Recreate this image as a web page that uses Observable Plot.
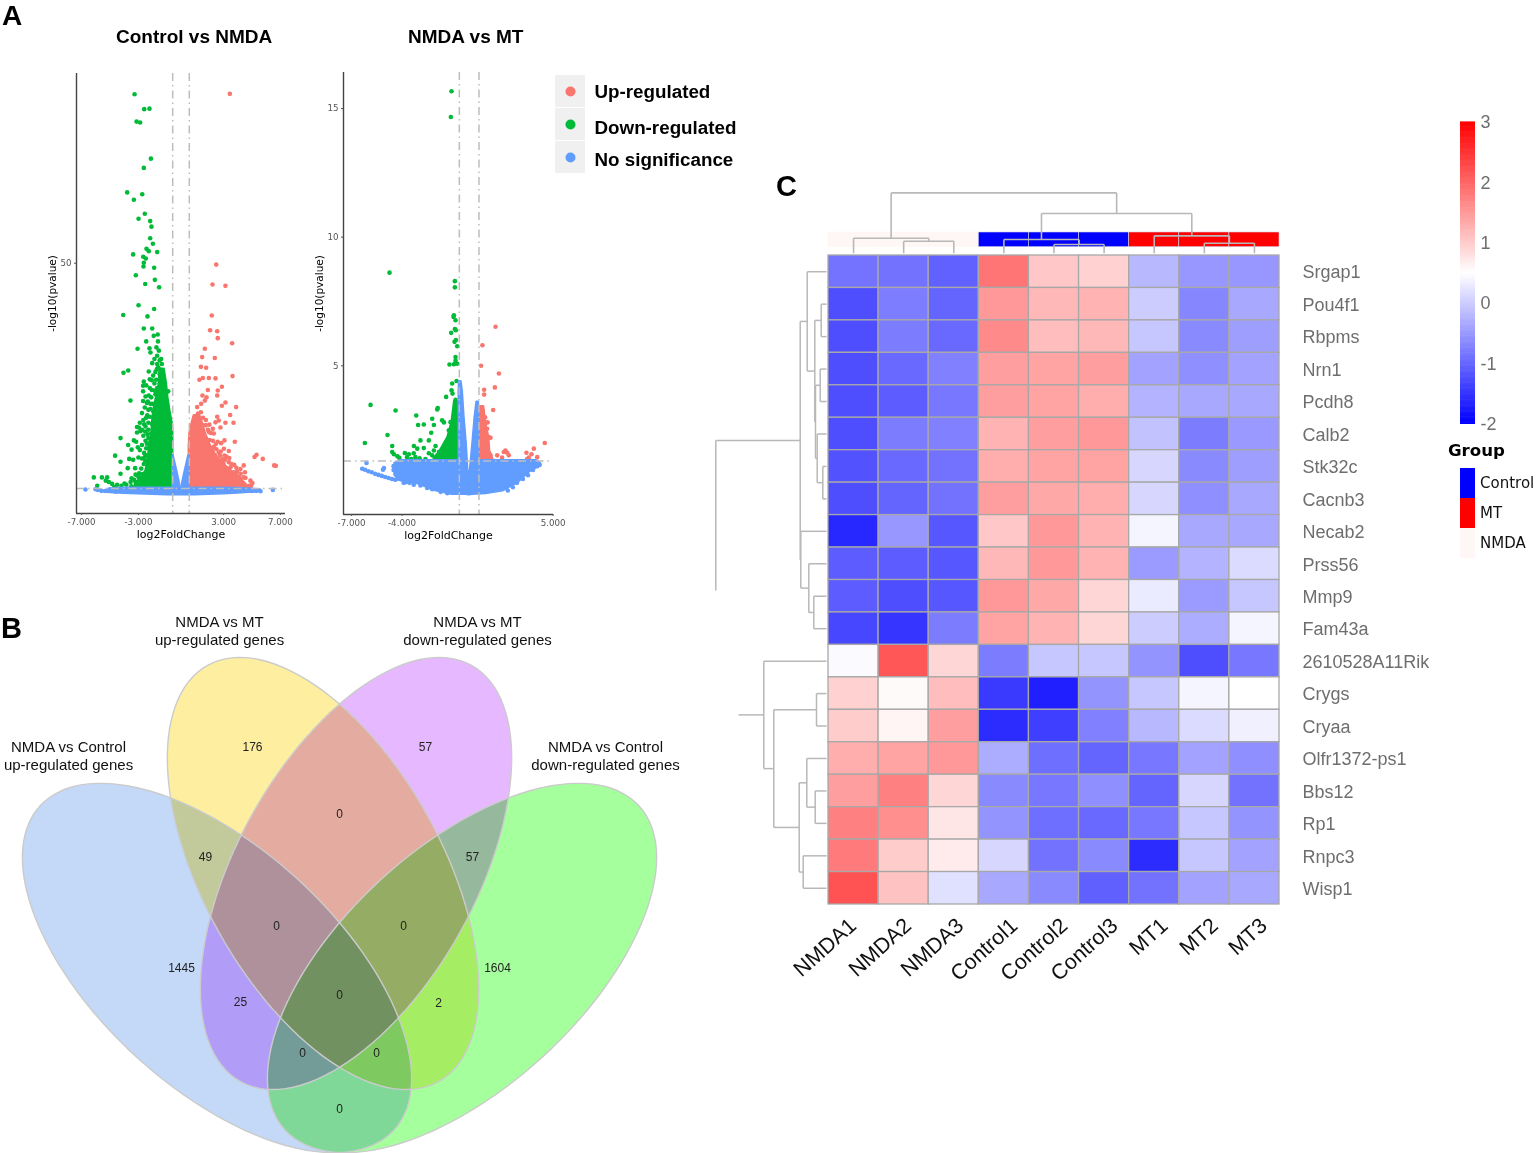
<!DOCTYPE html>
<html><head><meta charset="utf-8">
<script src="https://cdn.jsdelivr.net/npm/d3@7"></script>
<script src="https://cdn.jsdelivr.net/npm/@observablehq/plot@0.6"></script>
<style>
html,body{margin:0;padding:0;background:#fff}
#page{position:relative;width:1536px;height:1153px;overflow:hidden;font-family:"Liberation Sans",Arial,sans-serif}
#page svg{position:absolute;overflow:visible}
.t{position:absolute;white-space:nowrap;color:#000;line-height:29px}
</style></head><body><div id="page"></div>
<script>
// ---------- Panel A, Control vs NMDA (log2FC, -log10 p) ----------
const v1Down=[[-3.27,86.5],[-2.59,83.3],[-2.22,83.4],[-3.13,80.6],[-2.88,80.4],[-2.12,72.6],[-2.62,70.6],[-3.79,65.3],[-2.73,64.9],[-3.32,63.7],[-2.55,60.7],[-2.99,59.6],[-2.17,59.1],[-2.08,57.9],[-2.17,55.4],[-1.98,54.2],[-2.43,53.1],[-2.27,52.6],[-1.68,52.4],[-3.37,51.9],[-2.66,51.4],[-2.48,51],[-2.62,50.1],[-2.64,49.3],[-1.89,49],[-3.18,47.4],[-1.84,46.4],[-2.52,45.5],[-1.54,44.8],
[-2.99,40.9],[-1.89,40.1],[-4.07,38.8],[-2.36,38.5],[-2.62,35.9],[-2.03,35.9],[-1.92,34.3],[-1.64,34.6],[-2.45,33.1],[-1.62,33.1],[-3.06,31.5],[-2.22,31.6],[-1.73,31.8],[-2.15,30.7],[-1.56,31.1],[-1.68,30],[-1.87,29.3],[-1.4,29.3],[-2.03,28.4],[-1.68,28.2],[-1.35,28.2],[-1.7,27.1],[-2.27,26.6],[-3.72,26.8],[-4.05,26.3],[-1.96,25.7],[-1.28,25.5],[-2.2,24.9],[-2.62,24.4],[-1.87,24],[-1.26,24.6],[-2.67,23.5],[-2.2,23],[-1.68,23],[-2.67,22.3],[-1.21,22.5],[-0.9,22.3],[-2.27,21.4],[-1.8,21.7],[-3.56,20.3],[-2.67,20.2],[-2.34,20.1],[-1.98,19.6],[-1.33,20.3],[-2.15,18.5],[-1.75,18.9],[-2.38,17.1],[-2.65,16.1],[-2.97,14.5],[-2.5,14.7],[-2.05,15.3],[-2.85,13.7],[-2.52,13.6],[-2.1,13.2],[-2.3,12.2],[-1.95,11.9],
[-4.26,12.2],[-3.32,11.7],[-3.16,11.4],[-3.72,10.7],[-3.04,10.2],[-3.48,9.7],[-2.45,10],[-4.64,8.4],[-3.65,7.7],[-3.37,7.5],[-4.26,7.1],[-2.52,7.3],[-2.62,6.6],[-3.75,5.7],[-3.23,5.7],[-2.8,5.6],[-4.26,4.5],[-3.2,4.3],[-3.48,3.5],[-2.95,4.6],[-6.14,3.7],[-5.57,3.7],[-5.2,3.7],[-5.3,3],[-5.08,2.7],[-5.9,1.9],[-4.85,2.3],[-4.5,2.1],[-3.98,2.4],[-4.7,1.6],[-3.85,2.1],[-3.2,2.7],[-2.9,3.4],[-4.2,1.9],[-3.5,1.8],
[-1.5,29],[-1.6,27.5],[-1.8,26.5],[-1.5,26],[-2.05,24.7],[-1.75,24.8],[-1.5,24],[-2.45,23.6],[-2.05,22.6],[-1.85,22.5],[-1.55,22],[-2.5,21.2],[-2.1,21],[-1.6,21],[-2.4,19.8],[-2.15,19.6],[-1.85,19.5],[-2.55,18.8],[-2.3,18.3],[-1.95,18],[-2.75,17.6],[-2.45,16.6],[-2.2,16.8],[-1.9,16.5],[-2.9,15.5],[-2.6,15.2],[-2.3,15.5],[-3.1,14.6],[-2.75,14],[-2.3,14],[-2,14],[-3.1,13.4],[-2.65,12.7],[-2.35,13],[-2.5,11.6],[-2.75,10.7],[-2.4,11],[-2.9,9.6],[-2.6,9],[-2.4,8.5],[-3,8],[-2.75,7.8],[-2.55,8.1],[-2.7,4.4],[-3,3.8],[-3.3,3.2],[-3.55,2.7]];
const v1Up=[[3.44,86.6],[2.48,49.7],[2.22,45.4],[3.13,45.1],[2.17,38.7],[2.05,35.5],[2.55,35.3],[2.59,33.8],[3.6,32.7],[1.68,31.5],[1.49,29.7],[2.38,29.5],[1.4,27.6],[1.77,27.4],[1.3,24.8],[1.54,25.2],[1.96,25.2],[2.43,25.1],[3.63,25.6],[1.89,22.6],[2.59,22.5],[2.88,23.3],[2.55,21.4],[1.51,21.4],[1.8,21],[1.68,20.3],[1.42,19.6],[1.14,18.9],[3.13,19.9],[2.88,19.2],[3.88,18.9],[3.46,17.2],[2.55,16.8],[2.66,16],[2.43,15.6],[1.75,16.1],[3.13,15.5],[3.7,15.5],[2.78,14.5],[2,15.1],[2.24,14.2],[1.96,13.5],[2.31,13.2],[2.59,11.4],[3.06,11.7],[3.79,11.4],[2.83,11.1],[3.02,9.9],[3.37,9.4],[2.31,10.3],[2.66,9.1],[3.06,8.4],[3.37,7],[5.32,8.6],[5.18,8.1],[5.76,7.7],[6.56,6.3],[6.68,6.2],[4.42,6.3],[4.19,5.5],[3.49,5.9],[3.72,4.8],[4.5,4.8],[4.09,3.7],[4.54,3.6],[4.89,3],[5.03,2.5],[4.8,1.9],[4.94,1.9],[3,6.6],[3.2,5],[3.9,4.3],[2.9,7.6],
[1.2,17.5],[1.4,17.8],[1.55,16.6],[1.75,15],[1.5,15],[1.9,14],[2.1,13.3],[1.7,12.4],[2,11.8],[2.25,11.6],[2.45,10.9],[2.2,9.6],[2.5,9.8],[2.8,9.3],[2.4,8.5],[2.75,8.4],[3.2,8.2],[2.9,7.3],[3.1,7.5],[3.4,7.9],[3.55,6.6],[3.75,6.4],[3.9,5.8],[3.4,5.2],[3.95,5],[4.2,4.5],[4.4,3.7]];
const v1Ns=[[-6.73,1.1],[-6.02,1.15],[-5.85,1],[-5.6,0.8],[-5.35,0.75],[-5.15,0.75],[-5.05,1.1],[-4.85,1],[-4.6,0.6],[-4.4,0.9],[5.3,0.8],[5.6,0.7],[6.47,1],[5,0.75]];
const v1DownBlock=[[1.5,-3.25,-0.6],[2,-3.2,-0.6],[3,-2.95,-0.6],[5,-2.45,-0.6],[8,-2.25,-0.6],[11,-2.2,-0.6],[13,-2.0,-0.6],[15,-2,-0.62],[18,-1.9,-0.8],[21,-1.7,-0.95],[24,-1.5,-1.05],[27,-1.45,-1.2]];
const v1UpBlock=[[1.5,0.6,4.75],[3,0.6,4.3],[4.5,0.6,3.7],[5.9,0.6,3.2],[8.1,0.6,2.5],[10.2,0.6,2.1],[13.1,0.65,1.7],[15.3,0.8,1.5],[17,0.95,1.3]];
const v1NsBand=[[-5,0.5,1.15],[-4,0.35,1.3],[-3,0.2,1.3],[-2,0.1,1.3],[-1,0.03,1.3],[0,0,1.2],[1,0.03,1.3],[2,0.1,1.3],[3,0.2,1.3],[4,0.4,1.25],[5,0.6,1.1],[5.6,0.7,0.9]];
const v1NsArmL=[[1.4,-0.6,-0.02],[3,-0.6,-0.12],[5.9,-0.6,-0.33],[8.4,-0.58,-0.52]];
const v1NsArmR=[[1.4,0.02,0.6],[3,0.12,0.6],[5.9,0.33,0.6],[8.4,0.52,0.58]];
// ---------- Panel A, NMDA vs MT ----------
const v2Down=[[-1.05,15.67],[-1.09,14.67],[-4.74,8.62],[-0.85,8.29],[-0.85,8.05],[-0.91,6.96],[-0.93,6.9],[-0.81,6.77],[-0.85,6.43],[-0.79,6.38],[-1.07,6.28],[-0.79,6],[-0.87,5.93],[-0.71,5.76],[-0.81,5.34],[-1.17,5.05],[-0.91,5.06],[-0.71,5.08],[-0.81,5.2],[-1.01,4.31],[-0.75,4.41],[-1.05,4.05],[-0.99,3.92],[-1.37,3.79],[-0.81,3.68],[-5.87,3.48],[-4.38,3.26],[-3.15,3.07],[-1.87,3.36],[-1.9,3.3],[-3.04,2.7],[-2.7,2.72],[-2.2,2.94],[-2.1,2.7],[-1.61,2.88],[-1.5,2.8],[-2.26,2.4],[-1.11,2.81],[-0.75,3.2],[-1.21,2.49],[-4.86,2.31],[-6.21,2],[-4.58,1.88],[-2.9,2.1],[-2.4,2.1],[-3.29,1.88],[-3.09,1.78],[-2.7,1.8],[-2,1.88],[-2.1,1.71],[-1.8,1.65],[-4.58,1.65],[-4.48,1.56],[-4.27,1.48],[-4.15,1.42],[-3.83,1.61],[-3.59,1.56],[-3.7,1.45],[-3.3,1.6],[-3.2,1.45],[-2.4,1.6],[-2.2,1.52],[-1.9,1.52],[-1.6,1.38],[-1.3,1.85],[-1.1,2],[-0.9,2.25],[-0.8,2.5],[-0.9,2.7],[-1,1.7],[-0.8,1.5],[-1.3,1.45],[-1.2,2.1],[-0.7,1.85],[-3.45,1.38],[-2.95,1.4],[-2.6,1.38],[-2.05,1.42]];
const v2Up=[[1.57,6.52],[0.79,5.8],[0.71,5],[1.77,4.7],[1.53,4.16],[0.89,4.07],[0.89,3.88],[1.43,3.28],[0.68,3.3],[0.8,3.25],[0.99,2.78],[1.07,2.55],[1.17,2.23],[1.27,2.2],[0.87,2.1],[0.97,1.95],[0.77,1.85],[2.16,1.71],[2.26,1.62],[2.06,1.65],[1.67,1.52],[1.96,1.43],[2.36,1.52],[3.41,1.62],[3.71,1.56],[3.85,1.78],[4.5,2],[3.55,1.43],[3.45,1.38],[4.05,1.45],[1.17,1.6],[1.27,1.52],[0.87,1.45],[1.1,2.8],[0.95,3],[0.85,2.4]];
const v2Ns=[[-6.11,1.22],[-5.07,1.03],[-5.13,0.96],[-6.37,1],[-6.2,0.96],[-6,0.9],[-5.8,0.86],[-5.6,0.8],[-5.4,0.76],[-5.2,0.72],[-5,0.68],[-4.8,0.64],[-4.6,0.6],[-4.4,0.57],[-4.5,0.95],[-4.5,1.1],[-3.75,0.48],[-3.55,0.45],[3.7,1.25],[4.15,1.2],[4.2,1.15],
[-4.3,0.6],[-3.9,0.45],[-3.3,0.38],[-2.9,0.35],[-2.5,0.25],[-2.2,0.2],[-1.7,0.1],[-1.3,0.05],[2.3,0.15],[2.6,0.28],[2.85,0.45],[3.2,0.6],[3.5,0.75],[3.8,0.95],[4.05,1.1]];
const v2DownBlock=[[1.35,-2,-0.6],[1.8,-1.6,-0.6],[2.2,-1.25,-0.6],[2.8,-1,-0.6],[3.6,-0.85,-0.7]];
const v2UpBlock=[[1.35,0.6,1.4],[1.7,0.6,1.2],[2.2,0.6,1.15],[2.8,0.6,0.95],[3.4,0.6,0.85]];
const v2NsBody=[[-4.4,0.75,1.2],[-4.1,0.55,1.3],[-3.6,0.48,1.3],[-3,0.42,1.3],[-2,0.16,1.3],[-1,0.02,1.3],[-0.2,0.02,1.3],[0,0,0.6],[0.2,0.02,1.3],[1,0.05,1.3],[2,0.15,1.3],[2.9,0.48,1.3],[3.5,0.85,1.3],[4,1.05,1.3],[4.15,1.15,1.25]];
const v2NsArmL=[[1,-0.62,-0.06],[2,-0.62,-0.15],[3,-0.62,-0.28],[4,-0.62,-0.38],[4.4,-0.6,-0.46]];
const v2NsArmR=[[1,0.06,0.6],[2,0.2,0.6],[3,0.33,0.6],[3.6,0.44,0.58]];
// ---------- Legend ----------
const legendLabels=["Up-regulated","Down-regulated","No significance"];
const legendColors=["#F8766D","#00BA38","#619CFF"];
// ---------- Panel B ----------
const vennFill=["#c4d8f7","#fdeea0","#e6b8ff","#a6ff9d"];
const vennCx=[216.5,322.5,355.5,461.5];
const vennCy=[967.5,873,873,967.5];
const vennA=[240,238,238,240];
const vennB=[120,119.5,119.5,120];
const vennAngle=[42.5,61,-61,-42.5];
const vennCounts=[["176",252,747],["57",425,747],["0",339,814],["49",205,857],["57",472,857],["0",276,926],["0",403,926],["1445",181,968],["1604",497,968],["25",240,1002],["2",438,1003],["0",339,995],["0",302,1053],["0",376,1053],["0",339,1109]];
const vennSets=[["NMDA vs MT\nup-regulated genes",219,630],["NMDA vs MT\ndown-regulated genes",477,630],["NMDA vs Control\nup-regulated genes",68,755],["NMDA vs Control\ndown-regulated genes",605,755]];
// ---------- Panel C ----------
const samples=["NMDA1","NMDA2","NMDA3","Control1","Control2","Control3","MT1","MT2","MT3"];
const sampleGroup=["NMDA","NMDA","NMDA","Control","Control","Control","MT","MT","MT"];
const genes=["Srgap1","Pou4f1","Rbpms","Nrn1","Pcdh8","Calb2","Stk32c","Cacnb3","Necab2","Prss56","Mmp9","Fam43a","2610528A11Rik","Crygs","Cryaa","Olfr1372-ps1","Bbs12","Rp1","Rnpc3","Wisp1"];
const expr=[
[-0.87,-0.88,-1.05,1.85,1.05,0.95,-0.2,-0.52,-0.52],
[-1.24,-0.77,-1.02,1.5,1.2,1.25,0,-0.69,-0.35],
[-1.24,-0.78,-0.97,1.65,1.15,1.2,-0.05,-0.65,-0.45],
[-1.24,-0.97,-0.74,1.45,1.4,1.45,-0.4,-0.6,-0.4],
[-1.24,-1.1,-0.83,1.45,1.4,1.3,-0.25,-0.35,-0.35],
[-1.24,-0.78,-0.74,1.25,1.45,1.5,-0.1,-0.78,-0.5],
[-1.2,-0.97,-0.88,1.3,1.4,1.4,0.1,-0.65,-0.45],
[-1.24,-1.02,-0.88,1.45,1.35,1.3,0.1,-0.6,-0.35],
[-1.62,-0.52,-1.15,1.05,1.5,1.25,0.4,-0.35,-0.35],
[-1.1,-1.1,-1.15,1.2,1.5,1.25,-0.48,-0.25,0.15],
[-1.1,-1.24,-1.15,1.5,1.35,0.9,0.3,-0.48,-0.05],
[-1.3,-1.48,-0.78,1.4,1.25,0.9,0,-0.3,0.4],
[0.45,2.15,0.9,-0.78,-0.05,-0.05,-0.55,-1.24,-0.83],
[0.95,0.55,1.15,-1.43,-1.7,-0.55,-0.05,0.4,0.5],
[1,0.6,1.45,-1.57,-1.38,-0.74,-0.2,0.15,0.35],
[1.3,1.4,1.5,-0.3,-0.92,-1.02,-0.83,-0.4,-0.6],
[1.45,1.75,0.9,-0.65,-0.83,-0.6,-1.02,0.1,-0.88],
[1.75,1.6,0.75,-0.55,-0.92,-0.97,-0.83,-0.05,-0.55],
[1.8,1,0.7,0.1,-0.88,-0.65,-1.57,-0.05,-0.4],
[2.2,1.1,0.2,-0.35,-0.65,-1.06,-0.88,-0.4,-0.35]];
const groupColors={NMDA:"#fff7f5",Control:"#0000ff",MT:"#ff0000"};
const colTree=[60.3,[15,0,[12,1,2]],[39.7,[13.7,3,[8.7,4,5]],[17.3,6,[10,7,8]]]];
const rowTreeA=[26.3,[19.3,0,[11.7,[5.3,1,2],[11,[6.3,3,4],[9.3,5,[3.7,6,7]]]]],[25.7,8,[17.7,9,[12.7,10,11]]]];
const rowTreeB=[62.7,12,[52.7,[10,13,14],[27.3,[19.7,15,[11.3,16,17]],[23.3,18,19]]]];
const rowRootH=110.7, rowRootEnd=9.82, rowStubH=88;

const page=document.getElementById("page");
function put(svg,left,top){svg.style.left=left+"px";svg.style.top=top+"px";page.appendChild(svg);}
function text(s,left,top,css){const d=document.createElement("div");d.className="t";d.textContent=s;d.style.left=left+"px";d.style.top=top+"px";Object.assign(d.style,css);page.appendChild(d);}
const pairs=a=>a.map(([x,y])=>({x,y}));
const band=a=>a.map(([y,x1,x2])=>({y,x1,x2}));
const RED="#F8766D",GREEN="#00BA38",BLUE="#619CFF",DASH="#bdbdbd";

function volcano(o){
  const blockOpt=(c,w=3)=>({x1:"x1",x2:"x2",y:"y",fill:c,stroke:c,strokeWidth:w,strokeLinejoin:"round"});
  const dash={stroke:DASH,strokeWidth:1.5,strokeDasharray:"8 4 1.5 4"};
  return Plot.plot({width:o.width,height:490,marginLeft:o.ml,marginRight:o.mr,marginTop:o.mt,marginBottom:o.mb,
    style:{background:"transparent"},
    x:{domain:o.xd,ticks:o.xt},y:{domain:o.yd},
    marks:[
      Plot.areaX(band(o.downBlock),blockOpt(GREEN)),
      Plot.areaX(band(o.upBlock),blockOpt(RED)),
      Plot.dot(pairs(o.down),{x:"x",y:"y",r:2.3,fill:GREEN}),
      Plot.dot(pairs(o.up),{x:"x",y:"y",r:2.3,fill:RED}),
      Plot.areaY(o.body.map(([x,y1,y2])=>({x,y1,y2})),{x:"x",y1:"y1",y2:"y2",fill:BLUE,stroke:BLUE,strokeWidth:3,strokeLinejoin:"round"}),
      Plot.areaX(band(o.armL),blockOpt(BLUE,1.5)),
      Plot.areaX(band(o.armR),blockOpt(BLUE,1.5)),
      Plot.dot(pairs(o.ns),{x:"x",y:"y",r:2.3,fill:BLUE}),
      Plot.ruleX([-0.585,0.585],dash),
      Plot.ruleY([1.3],dash),
      Plot.ruleX([o.xd[0]],{stroke:"#444",strokeWidth:1.4}),
      Plot.ruleY([o.yd[0]],{stroke:"#444",strokeWidth:1.4}),
      Plot.axisX({ticks:o.xt,tickFormat:d=>d.toFixed(3),tickSize:2,tickPadding:3,label:null,fontSize:8.7,fontFamily:"DejaVu Sans",color:"#555",stroke:"#555"}),
      Plot.axisY({ticks:o.yt,tickFormat:d=>String(d),tickSize:2,tickPadding:3,label:null,fontSize:8.7,fontFamily:"DejaVu Sans",color:"#555",stroke:"#555"}),
      Plot.text(["log2FoldChange"],{frameAnchor:"bottom",dy:24,fontSize:11,fontFamily:"DejaVu Sans",fill:"#000"}),
      Plot.text(["-log10(pvalue)"],{frameAnchor:"left",textAnchor:"middle",rotate:-90,dx:-24,fontSize:10.5,fontFamily:"DejaVu Sans",fill:"#000"})
    ]});
}
put(volcano({width:300,ml:76,mr:15,mt:13,mb:37,xd:[-7.36,7.36],yd:[-4.1,91],xt:[-7,-3,3,7],yt:[50],
  down:v1Down,up:v1Up,ns:v1Ns,downBlock:v1DownBlock,upBlock:v1UpBlock,body:v1NsBand,armL:v1NsArmL,armR:v1NsArmR}),0,60);
put(volcano({width:280,ml:43,mr:27,mt:12,mb:36,xd:[-7.48,5.02],yd:[-0.78,16.4],xt:[-7,-4,5],yt:[5,10,15],
  down:v2Down,up:v2Up,ns:v2Ns,downBlock:v2DownBlock,upBlock:v2UpBlock,body:v2NsBody,armL:v2NsArmL,armR:v2NsArmR}),300,60);

// legend
const legendTextDy=[0,3,2];
put(Plot.plot({width:200,height:102,margin:0,marginRight:170,style:{background:"transparent"},
  x:{axis:null,domain:["k"],padding:0},y:{axis:null,domain:legendLabels,padding:0.04},
  marks:[
    Plot.cell(legendLabels,{x:()=>"k",y:d=>d,fill:"#f0f0f0"}),
    Plot.dot(legendLabels,{x:()=>"k",y:d=>d,r:5,fill:(d,i)=>legendColors[i]}),
    ...legendLabels.map((l,i)=>Plot.text([l],{x:()=>"k",y:d=>d,text:d=>d,dx:24,dy:legendTextDy[i],textAnchor:"start",fontSize:18.8,fontWeight:"bold",fontFamily:"Liberation Sans",fill:"#000"}))
  ]}),555,73);

// titles
text("A",2,1,{fontSize:"28px",fontWeight:"bold"});
text("B",1,614,{fontSize:"29px",fontWeight:"bold"});
text("C",776,172,{fontSize:"29px",fontWeight:"bold"});
text("Control vs NMDA",116,22,{fontSize:"19px",fontWeight:"bold"});
text("NMDA vs MT",408,22,{fontSize:"19px",fontWeight:"bold"});

// Venn
function ellipse(i){
  const t=vennAngle[i]*Math.PI/180;
  return d3.range(0,361,3).map(a=>{const r=a*Math.PI/180,u=vennA[i]*Math.cos(r),v=vennB[i]*Math.sin(r);
    return {x:vennCx[i]+u*Math.cos(t)-v*Math.sin(t),y:vennCy[i]+u*Math.sin(t)+v*Math.cos(t)};});
}
put(Plot.plot({width:700,height:553,margin:0,style:{background:"transparent"},
  x:{domain:[0,700],axis:null},y:{domain:[1153,600],axis:null},
  marks:[
    ...vennFill.map((c,i)=>Plot.line(ellipse(i),{x:"x",y:"y",fill:c,stroke:"none",mixBlendMode:"multiply"})),
    ...vennFill.map((c,i)=>Plot.line(ellipse(i),{x:"x",y:"y",fill:"none",stroke:"#cbcbcb",strokeWidth:1.4})),
    Plot.text(vennCounts,{x:d=>d[1],y:d=>d[2],text:d=>d[0],fontSize:12,fontFamily:"Liberation Sans",fill:"#222"}),
    Plot.text(vennSets,{x:d=>d[1],y:d=>d[2],text:d=>d[0],fontSize:15,lineHeight:1.2,fontFamily:"Liberation Sans",fill:"#111"})
  ]}),0,600);

// dendrogram helpers: nodes [height,a,b], leaves are integers
function tree(node,out){
  if(typeof node==="number")return {p:node,h:0};
  const [h,a,b]=node;const A=tree(a,out),B=tree(b,out);
  out.push({p1:A.p,p2:B.p,h1:h,h2:h},{p1:A.p,p2:A.p,h1:A.h,h2:h},{p1:B.p,p2:B.p,h1:B.h,h2:h});
  return {p:(A.p+B.p)/2,h};
}
// column dendrogram + annotation bar
const colSegs=[];tree(colTree,colSegs);
put(Plot.plot({width:451,height:62,margin:0,style:{background:"transparent"},
  x:{domain:[-0.5,8.5],axis:null},y:{domain:[0,62],axis:null},
  marks:[
    Plot.rect(samples,{x1:(d,i)=>i-0.5,x2:(d,i)=>i+0.5,y1:()=>6.3,y2:()=>21,fill:(d,i)=>groupColors[sampleGroup[i]],stroke:(d,i)=>i<3?groupColors.NMDA:"#d0d0e8",strokeWidth:0.6}),
    Plot.link(colSegs,{x1:"p1",x2:"p2",y1:d=>d.h1+0.3,y2:d=>d.h2+0.3,stroke:"#b8b8b8",strokeWidth:1.6})
  ]}),828,191);
// row dendrogram
const rowSegs=[];const ra=tree(rowTreeA,rowSegs),rb=tree(rowTreeB,rowSegs);
rowSegs.push({p1:ra.p,p2:ra.p,h1:ra.h,h2:rowRootH},{p1:ra.p,p2:rowRootEnd,h1:rowRootH,h2:rowRootH},{p1:rb.p,p2:rb.p,h1:rb.h,h2:rowStubH});
put(Plot.plot({width:120,height:649,margin:0,style:{background:"transparent"},
  x:{domain:[118,-2],axis:null},y:{domain:[19.5,-0.5],axis:null},
  marks:[
    Plot.link(rowSegs,{x1:"h1",x2:"h2",y1:"p1",y2:"p2",stroke:"#b8b8b8",strokeWidth:1.5})
  ]}),708,255);
// heatmap
const cells=genes.flatMap((g,r)=>samples.map((s,c)=>({g,s,v:expr[r][c]})));
const colorScale={type:"linear",domain:[-2,0.5,3],range:["#0000ff","#ffffff","#ff0000"]};
const sampleLabelDx=[4,9,11,15,15,15,15,15,14];
put(Plot.plot({width:816,height:764,marginLeft:108,marginRight:257,marginTop:5,marginBottom:110,
  style:{background:"transparent"},
  x:{domain:samples,padding:0,round:false,axis:null},y:{domain:genes,padding:0,round:false},color:colorScale,
  marks:[
    Plot.cell(cells,{x:"s",y:"g",fill:"v",stroke:"#a8a8a8",strokeWidth:1.3}),
    Plot.axisY({anchor:"right",tickSize:0,tickPadding:23,dy:1,label:null,fontSize:18,fontFamily:"Liberation Sans",color:"#6e6e6e"}),
    ...samples.map((s,i)=>Plot.text([s],{x:d=>d,text:d=>d,frameAnchor:"bottom",dx:sampleLabelDx[i],dy:23,rotate:-42,textAnchor:"end",fontSize:21.5,fontFamily:"Liberation Sans",fill:"#111"}))
  ]}),720,250);
// colour bar
const barVals=d3.range(-2,3,0.02);
put(Plot.plot({width:80,height:302,marginLeft:5,marginRight:60,marginTop:0,marginBottom:0,style:{background:"transparent"},
  x:{domain:[0,1],axis:null},y:{domain:[-2,3]},color:colorScale,
  marks:[
    Plot.rect(barVals,{x1:()=>0,x2:()=>1,y1:d=>d,y2:d=>d+0.03,fill:d=>d+0.01}),
    Plot.axisY({anchor:"right",ticks:[-2,-1,0,1,2,3],tickFormat:d=>String(d),tickSize:0,tickPadding:5,label:null,fontSize:18,fontFamily:"Liberation Sans",color:"#6e6e6e"})
  ]}),1455,122);
// group legend
const groupNames=["Control","MT","NMDA"];
put(Plot.plot({width:80,height:90,marginLeft:5,marginRight:60,marginTop:0,marginBottom:0,style:{background:"transparent"},
  x:{domain:["k"],axis:null,padding:0},y:{domain:groupNames,axis:null,padding:0},
  marks:[
    Plot.cell(groupNames,{x:()=>"k",y:d=>d,fill:d=>groupColors[d]}),
    Plot.text(groupNames,{x:()=>"k",y:d=>d,text:d=>d,dx:12,textAnchor:"start",fontSize:15,fontFamily:"DejaVu Sans",fill:"#111"})
  ]}),1455,468);
text("Group",1448,436,{fontSize:"16.6px",fontWeight:"bold",fontFamily:"DejaVu Sans"});
</script></body></html>
